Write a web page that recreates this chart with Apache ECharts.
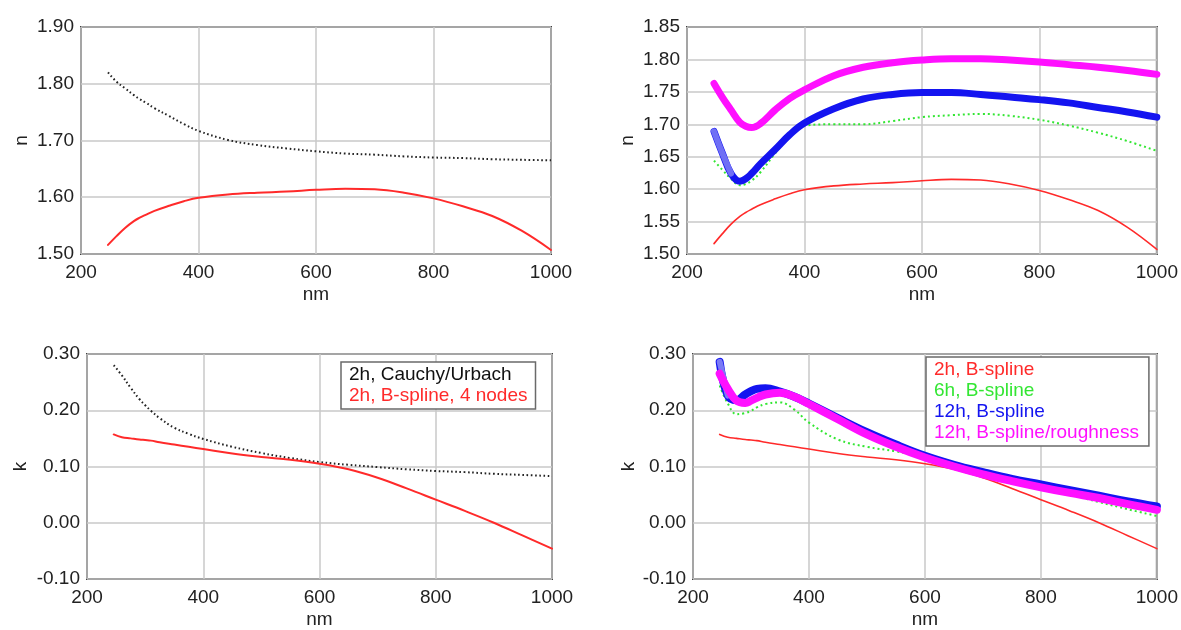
<!DOCTYPE html>
<html>
<head>
<meta charset="utf-8">
<script src="https://cdn.jsdelivr.net/npm/echarts@6/dist/echarts.min.js"></script>
<style>
html,body{margin:0;padding:0;background:#fff;}
#c{width:1181px;height:630px;}
</style>
</head>
<body>
<div id="c"></div>
<script>
// wavelengths (nm)
var wl = [246,260,275,290,300,310,325,350,375,400,450,500,550,600,650,700,750,800,850,900,950,1000];
// refractive index n
var nCauchy = [1.820,1.804,1.792,1.780,1.773,1.767,1.757,1.743,1.729,1.717,1.701,1.692,1.686,1.681,1.677,1.675,1.672,1.670,1.669,1.667,1.666,1.665];
var n2h     = [1.516,1.531,1.546,1.558,1.564,1.569,1.576,1.585,1.593,1.599,1.605,1.608,1.610,1.613,1.615,1.614,1.608,1.598,1.584,1.567,1.541,1.507];
var n6h     = [1.644,1.630,1.616,1.606,1.608,1.613,1.626,1.655,1.681,1.698,1.700,1.700,1.705,1.711,1.714,1.716,1.713,1.707,1.698,1.687,1.674,1.659];
var n12h    = [1.689,1.656,1.624,1.612,1.616,1.624,1.639,1.661,1.684,1.702,1.724,1.739,1.746,1.749,1.749,1.746,1.742,1.738,1.733,1.726,1.719,1.711];
var n12hR   = [1.763,1.742,1.722,1.703,1.697,1.695,1.701,1.722,1.740,1.753,1.775,1.788,1.795,1.799,1.801,1.801,1.799,1.796,1.792,1.788,1.783,1.777];
// extinction coefficient k
var kCauchy = [0.280,0.262,0.240,0.220,0.209,0.199,0.186,0.169,0.158,0.149,0.135,0.124,0.115,0.108,0.103,0.099,0.095,0.092,0.090,0.087,0.085,0.083];
var k2h     = [0.157,0.152,0.150,0.148,0.147,0.146,0.143,0.139,0.135,0.131,0.123,0.117,0.112,0.105,0.095,0.080,0.061,0.041,0.021,0.000,-0.023,-0.046];
var k6h     = [0.244,0.212,0.193,0.195,0.199,0.205,0.211,0.214,0.201,0.178,0.148,0.135,0.127,0.117,0.102,0.087,0.075,0.063,0.050,0.037,0.024,0.012];
var k12h    = [0.286,0.226,0.218,0.228,0.234,0.238,0.239,0.233,0.224,0.212,0.186,0.161,0.139,0.119,0.103,0.090,0.078,0.068,0.058,0.048,0.038,0.029];
var k12hR   = [0.265,0.238,0.217,0.213,0.217,0.222,0.228,0.231,0.224,0.211,0.184,0.157,0.135,0.116,0.100,0.086,0.074,0.063,0.053,0.044,0.033,0.023];
// axis ticks
var xTicks = {min:200, max:1000, interval:200};
var nTicks1 = {min:1.50, max:1.90, interval:0.10};
var nTicks2 = {min:1.50, max:1.85, interval:0.05};
var kTicks = {min:-0.10, max:0.30, interval:0.10};
// legends
var legend3 = ['2h, Cauchy/Urbach','2h, B-spline, 4 nodes'];
var legend4 = ['2h, B-spline','6h, B-spline','12h, B-spline','12h, B-spline/roughness'];

var FONT = "'Liberation Sans', Arial, sans-serif";
var TXT = '#222';
var RED = '#ff2a2a', GREEN = '#33e633', BLUE = '#1414f0', MAG = '#ff10ff', BLK = '#222';

function pairs(ys){ var out=[]; for (var i=0; i<ys.length; i++) out.push([wl[i], ys[i]]); return out; }
function head(ys, n){ var out=[]; for (var i=0;i<n;i++) out.push([wl[i], ys[i]]); return out; }

var grids = [
  {left:81, top:27, width:470, height:227},
  {left:687, top:27, width:470, height:227},
  {left:87, top:354, width:465, height:231},
  {left:693, top:354, width:465, height:231}
].map(function(g){ return Object.assign({show:true, borderColor:'#3f3f3f', borderWidth:2, backgroundColor:'#fff', containLabel:false}, g); });

function xAx(i){
  return {type:'value', gridIndex:i, min:xTicks.min, max:xTicks.max, interval:xTicks.interval,
    name:'nm', nameLocation:'middle', nameGap:31,
    nameTextStyle:{fontFamily:FONT, fontSize:19, color:TXT},
    axisLine:{show:false}, axisTick:{show:false},
    axisLabel:{fontFamily:FONT, fontSize:19, color:TXT, margin:9, formatter:function(v){ return String(v); }},
    splitLine:{show:true, lineStyle:{color:'#c9c9c9', width:1.5}}};
}
function yAx(i, t, name, gap){
  return {type:'value', gridIndex:i, min:t.min, max:t.max, interval:t.interval,
    name:name, nameLocation:'middle', nameGap:gap, nameRotate:90,
    nameTextStyle:{fontFamily:FONT, fontSize:19, color:TXT},
    axisLine:{show:false}, axisTick:{show:false},
    axisLabel:{fontFamily:FONT, fontSize:19, color:TXT, margin:7, formatter:function(v){ return v.toFixed(2); }},
    splitLine:{show:true, lineStyle:{color:'#c9c9c9', width:1.5}}};
}

function line(name, gi, data, color, width, type, z){
  var dashed = Array.isArray(type);
  return {name:name, type:'line', xAxisIndex:gi, yAxisIndex:gi, data:data, smooth:0.4, showSymbol:false,
    symbol:'none', silent:true, z:z||2,
    lineStyle:{color:color, width:width, type:type||'solid', cap:dashed ? 'butt' : 'round', join:'round'},
    itemStyle:{color:color}};
}

var series = [
  line('p1 cauchy', 0, pairs(nCauchy), BLK, 2, [1.6,2.6]),
  line('p1 bspline', 0, pairs(n2h), RED, 2),
  line('p2 2h', 1, pairs(n2h), RED, 1.6),
  line('p2 6h', 1, pairs(n6h), GREEN, 2, [2,3]),
  line('p2 12h', 1, pairs(n12h), BLUE, 7, 'solid', 3),
  line('p2 12h start', 1, head(n12h, 3), '#6f6ff5', 6, 'solid', 4),
  line('p2 12hR', 1, pairs(n12hR), MAG, 7, 'solid', 5),
  line(legend3[0], 2, pairs(kCauchy), BLK, 2, [1.6,2.6]),
  line(legend3[1], 2, pairs(k2h), RED, 2),
  line(legend4[0], 3, pairs(k2h), RED, 1.6),
  line(legend4[1], 3, pairs(k6h), GREEN, 2, [2,3]),
  line(legend4[2], 3, pairs(k12h), BLUE, 8, 'solid', 3),
  line('p4 12h start', 3, head(k12h, 2), '#7b7bf5', 6, 'solid', 4),
  line(legend4[3], 3, pairs(k12hR), MAG, 8, 'solid', 5)
];

function legendData(names, colors){
  return names.map(function(n,i){ return {name:n, icon:'none', textStyle:{color:colors[i]}}; });
}

var option = {
  animation:false,
  backgroundColor:'#fff',
  textStyle:{fontFamily:FONT},
  grid:grids,
  xAxis:[xAx(0), xAx(1), xAx(2), xAx(3)],
  yAxis:[yAx(0, nTicks1, 'n', 50), yAx(1, nTicks2, 'n', 50), yAx(2, kTicks, 'k', 57), yAx(3, kTicks, 'k', 55)],
  legend:[
    {left:341, top:362, orient:'vertical', itemWidth:0, itemHeight:20, itemGap:1, padding:[3,8,3,3],
     selectedMode:false, backgroundColor:'#fff', borderColor:'#6a6a6a', borderWidth:1.5,
     textStyle:{fontFamily:FONT, fontSize:19, lineHeight:20}, data:legendData(legend3, ['#111', RED])},
    {left:926, top:357, orient:'vertical', itemWidth:0, itemHeight:20, itemGap:1, padding:[3,10,3,3],
     selectedMode:false, backgroundColor:'#fff', borderColor:'#6a6a6a', borderWidth:1.5,
     textStyle:{fontFamily:FONT, fontSize:19, lineHeight:20}, data:legendData(legend4, [RED, GREEN, BLUE, MAG])}
  ],
  series:series
};
echarts.init(document.getElementById('c'), null, {renderer:'canvas'}).setOption(option);
</script>
</body>
</html>
